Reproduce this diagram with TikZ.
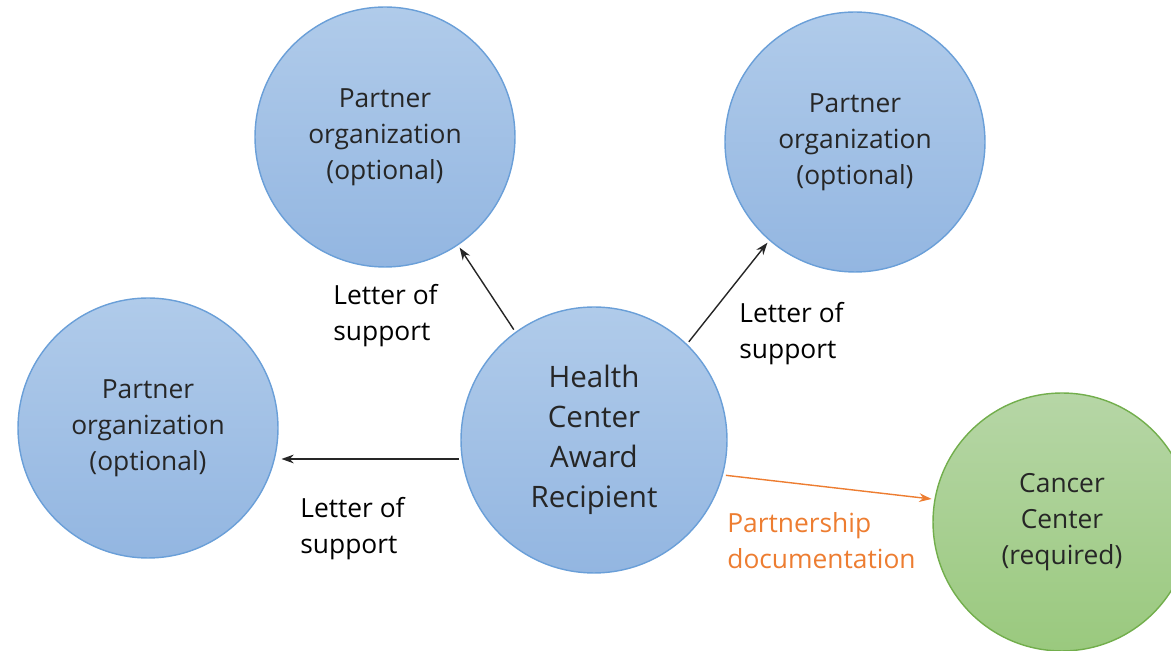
\documentclass[tikz,border=0pt]{standalone}
\usepackage{fontspec}
\setmainfont{Open Sans}
\usetikzlibrary{arrows.meta}
\definecolor{blueedge}{HTML}{6A9FD8}
\definecolor{bluetop}{HTML}{B0CBEA}
\definecolor{bluebot}{HTML}{93B6E1}
\definecolor{greenedge}{HTML}{72AE4C}
\definecolor{greentop}{HTML}{B6D6A6}
\definecolor{greenbot}{HTML}{9AC97E}
\definecolor{docorange}{HTML}{ED7D31}
\begin{document}
\begin{tikzpicture}[x=0.02cm,y=-0.02cm,>={Stealth[length=7pt,width=5pt]},
    partner/.style={circle,draw=blueedge,line width=0.8pt,top color=bluetop,bottom color=bluebot,
      minimum size=5.2cm,inner sep=0pt,outer sep=2pt,align=center,text=black!85,
      font=\fontsize{15}{20.5}\selectfont},
    lbl/.style={anchor=west,align=left,inner sep=0pt,font=\fontsize{15}{20.5}\selectfont}]
  \useasboundingbox (0,0) rectangle (1171,651);
  \clip (0,0) rectangle (1171,651);
  % circles
  \node[partner] (tl) at (385,137) {Partner\\organization\\(optional)};
  \node[partner] (tr) at (855,142) {Partner\\organization\\(optional)};
  \node[partner] (lc) at (148,428) {Partner\\organization\\(optional)};
  \node[partner,minimum size=5.32cm,font=\fontsize{16.8}{22.8}\selectfont] (hc) at (594,440)
    {Health\\Center\\Award\\Recipient};
  \node[partner,draw=greenedge,top color=greentop,bottom color=greenbot,minimum size=5.16cm] (cc)
    at (1062,522) {Cancer\\Center\\(required)};
  % connectors
  \draw[->,line width=0.8pt,black!85] (hc.126) -- (tl.-56);
  \draw[->,line width=0.8pt,black!85] (hc.46) -- (tr.229);
  \draw[->,line width=0.8pt,black!85] (hc.188) -- (hc.188 -| lc.east);
  \draw[->,line width=0.8pt,docorange] (hc.-15) -- (cc.170);
  % labels
  \node[lbl] (l1) at (333,316) {Letter of\\support};
  \node[lbl] (l2) at (739,334) {Letter of\\support};
  \node[lbl] (l3) at (300,529) {Letter of\\support};
  \node[lbl,text=docorange] (l4) at (727,541) {Partnership\\documentation};
\end{tikzpicture}
\end{document}
